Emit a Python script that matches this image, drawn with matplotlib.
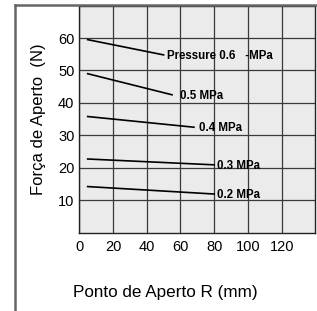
import matplotlib
matplotlib.use("Agg")
import matplotlib.pyplot as plt
from matplotlib.lines import Line2D

plt.rcParams['font.family'] = ['Liberation Sans', 'DejaVu Sans']

# clamping point R (mm) at the start and end of each line
x_start = [5, 5, 5, 5, 5]
x_end = [50, 55, 68, 80, 80]
# clamping force (N)
f_start = [59.5, 49.0, 35.8, 22.7, 14.2]
f_end = [54.8, 42.5, 32.5, 20.9, 11.9]
labels = ['Pressure 0.6   -MPa', '0.5 MPa', '0.4 MPa', '0.3 MPa', '0.2 MPa']
label_gap = [2, 5, 3, 1.5, 1.5]

xticks = [0, 20, 40, 60, 80, 100, 120]
yticks = [10, 20, 30, 40, 50, 60]

fig = plt.figure(figsize=(3.17, 3.11), dpi=100)
ax = fig.add_axes([0.250, 0.252, 0.745, 0.730])
ax.set_facecolor('#ebebeb')
ax.set_xlim(0, 140)
ax.set_ylim(0, 70)
ax.set_xticks(xticks)
ax.set_yticks(yticks)
ax.tick_params(length=0, labelsize=10.5)
ax.tick_params(axis='y', pad=3.5)
ax.tick_params(axis='x', pad=5)
ax.grid(True, color='#3a3a3a', linewidth=0.9)
ax.set_axisbelow(True)
for s in ax.spines.values():
    s.set_color('#222222')
    s.set_linewidth(1.0)

for i in range(len(labels)):
    ax.plot([x_start[i], x_end[i]], [f_start[i], f_end[i]], color='black', linewidth=1.2)
    ax.text(x_end[i] + label_gap[i], f_end[i] - 0.3, labels[i], fontsize=8.3,
            fontweight='bold', ha='left', va='center')

fig.text(165 / 317, 1 - 292 / 311, 'Ponto de Aperto R (mm)', fontsize=12.3,
         ha='center', va='center')
ax.set_ylabel('Força de Aperto  (N)', fontsize=12, labelpad=9)

# outer frame
fig.add_artist(Line2D([15 / 317, 15 / 317], [0, 1 - 5 / 311], transform=fig.transFigure,
                      color='#666666', linewidth=1.8))
fig.add_artist(Line2D([15 / 317, 1], [1 - 5 / 311, 1 - 5 / 311], transform=fig.transFigure,
                      color='#666666', linewidth=1.8))

fig.savefig('out.png', dpi=100)
